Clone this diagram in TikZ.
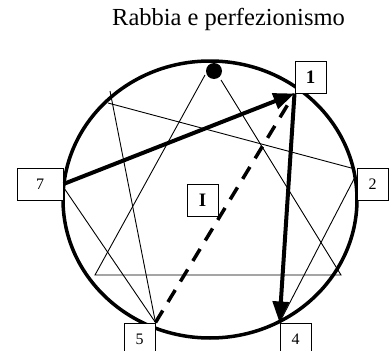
\documentclass[tikz,border=0pt]{standalone}
\usepackage{fontspec}
\setmainfont{Liberation Serif}
\usetikzlibrary{arrows.meta,backgrounds}
\begin{document}
\begin{tikzpicture}[x=1pt,y=-1pt,
  numbox/.style={draw, fill=white, line width=1pt, inner sep=0pt,
    minimum width=31pt, minimum height=32pt, font=\fontsize{16}{16}\selectfont},
  boldbox/.style={numbox, font=\fontsize{19}{19}\selectfont\bfseries},
  thinline/.style={line width=0.9pt},
  bigarrow/.style={line width=4pt, -{Triangle[length=21pt,width=16pt]}},
  dashline/.style={line width=3.5pt, dash pattern=on 14pt off 10pt}]
\useasboundingbox (0,0) rectangle (389,351);
% title
\node (title) at (228.5,19) {\fontsize{24.5}{24.5}\selectfont Rabbia e perfezionismo};
% boxes
\node[boldbox] (b1) at (310.5,77) {1};
\node[numbox, minimum width=46pt] (b7) at (40,184) {7};
\node[numbox] (b2) at (372.5,184) {2};
\node[numbox] (b5) at (139.5,339) {5};
\node[numbox] (b4) at (295.5,339) {4};
\node[boldbox] (bI) at (202.5,200) {I};
% points
\coordinate (p8) at (110,91);
\coordinate (p8b) at (108,103);
\coordinate (p2a) at (355,169);
\coordinate (p2b) at (355,177);
\coordinate (p7) at (64,188);
\coordinate (apexL) at (205,75);
\coordinate (apexR) at (221,80);
\coordinate (t3) at (95,275);
\coordinate (t6) at (341,275);
\begin{pgfonlayer}{background}
% circle
\draw[line width=3.5pt] (210,199.5) ellipse [x radius=147, y radius=138.5];
% thin lines
\draw[thinline] (p8) -- (b5.north east);
\draw[thinline] (p8b) -- (p2a);
\draw[thinline] (p2b) -- (b4.north west);
\draw[thinline] (p7) -- (b5.north east);
\draw[thinline] (apexL) -- (t3) -- (t6) -- (apexR);
% dot
\fill (214,71) circle [radius=8];
\end{pgfonlayer}
% arrows
\draw[bigarrow] (b7.east) -- (b1.south west);
\draw[bigarrow] (b1.south west) -- (b4.north west);
\draw[dashline, shorten >=10pt] (b5.north east) -- (b1.south west);
\end{tikzpicture}
\end{document}
